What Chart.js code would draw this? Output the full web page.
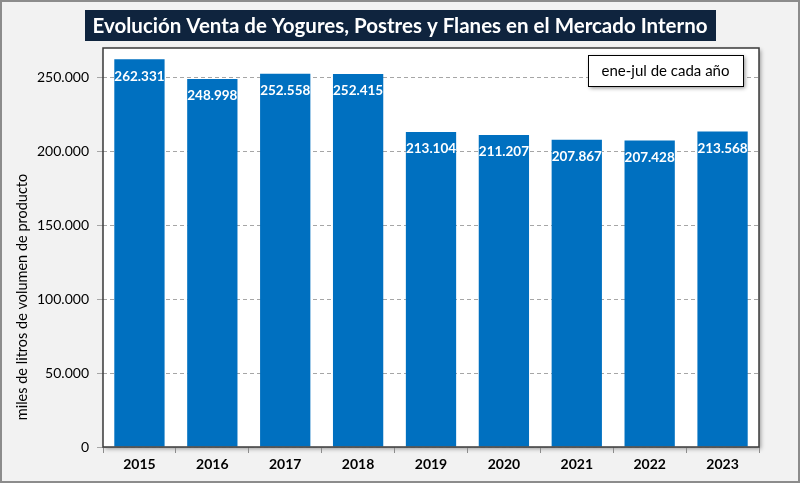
<!DOCTYPE html>
<html>
<head>
<meta charset="utf-8">
<script src="https://cdn.jsdelivr.net/npm/chart.js"></script>
<style>
  html, body { margin: 0; padding: 0; background: #f2f2f2; }
  #wrap { width: 800px; height: 483px; position: relative; }
</style>
</head>
<body>
<div id="wrap"><canvas id="chart" width="800" height="483"></canvas></div>
<script>
// datos (miles de litros, ene-jul)
const years = ['2015', '2016', '2017', '2018', '2019', '2020', '2021', '2022', '2023'];
const volumen = [262331, 248998, 252558, 252415, 213104, 211207, 207867, 207428, 213568];
const yTicks = [0, 50000, 100000, 150000, 200000, 250000];

const titulo = 'Evolución Venta de Yogures, Postres y Flanes en el Mercado Interno';
const nota = 'ene-jul de cada año';
const ejeY = 'miles de litros de volumen de producto';

const FONT = 'Lato, "Open Sans", sans-serif';

function miles(v) {
  return v.toString().replace(/\B(?=(\d{3})+(?!\d))/g, '.');
}

const decor = {
  id: 'decor',
  beforeDraw(chart) {
    const ctx = chart.ctx;
    ctx.save();
    ctx.fillStyle = '#f2f2f2';
    ctx.fillRect(0, 0, chart.width, chart.height);
    // plot area blanco con sombra
    const a = chart.chartArea;
    ctx.shadowColor = 'rgba(0,0,0,0.35)';
    ctx.shadowBlur = 4;
    ctx.shadowOffsetX = 2;
    ctx.shadowOffsetY = 2;
    ctx.fillStyle = '#ffffff';
    ctx.fillRect(a.left, a.top, a.right - a.left, a.bottom - a.top);
    ctx.restore();
  },
  afterDraw(chart) {
    const ctx = chart.ctx;
    const a = chart.chartArea;
    ctx.save();
    // borde del area
    ctx.strokeStyle = '#3a3a3a';
    ctx.lineWidth = 1.5;
    ctx.strokeRect(a.left, a.top, a.right - a.left, a.bottom - a.top);

    // etiquetas de valores
    const meta = chart.getDatasetMeta(0);
    ctx.fillStyle = '#ffffff';
    ctx.font = 'bold 13.5px ' + FONT;
    ctx.textAlign = 'center';
    ctx.textBaseline = 'middle';
    meta.data.forEach((bar, i) => {
      ctx.fillText(miles(volumen[i]), bar.x, bar.y + 17);
    });

    // titulo
    ctx.font = 'bold 20.5px ' + FONT;
    ctx.fillStyle = '#0f243e';
    ctx.fillRect(85, 10, 631, 31);
    ctx.fillStyle = '#ffffff';
    ctx.textAlign = 'center';
    ctx.fillText(titulo, 400, 26);

    // nota
    ctx.shadowColor = 'rgba(0,0,0,0.45)';
    ctx.shadowBlur = 4;
    ctx.shadowOffsetX = 2;
    ctx.shadowOffsetY = 2;
    ctx.fillStyle = '#ffffff';
    ctx.fillRect(588, 55, 155, 31);
    ctx.shadowColor = 'transparent';
    ctx.strokeStyle = '#000000';
    ctx.lineWidth = 1;
    ctx.strokeRect(588.5, 55.5, 155, 31);
    ctx.fillStyle = '#000000';
    ctx.font = '15px ' + FONT;
    ctx.fillText(nota, 665.5, 71.5);

    // titulo eje y
    ctx.translate(22, 297);
    ctx.rotate(-Math.PI / 2);
    ctx.font = '14.5px ' + FONT;
    ctx.fillText(ejeY, 0, 0);
    ctx.restore();

    // marco exterior
    ctx.save();
    ctx.strokeStyle = '#8c8c8c';
    ctx.lineWidth = 2;
    ctx.strokeRect(1, 1, chart.width - 2, chart.height - 2);
    ctx.restore();
  }
};

new Chart(document.getElementById('chart'), {
  type: 'bar',
  data: {
    labels: years,
    datasets: [{
      data: volumen,
      backgroundColor: '#0070c0',
      barPercentage: 0.69,
      categoryPercentage: 1.0
    }]
  },
  options: {
    responsive: false,
    animation: false,
    devicePixelRatio: 1,
    layout: { padding: { left: 0, top: 48, right: 41, bottom: 0 } },
    plugins: { legend: { display: false }, tooltip: { enabled: false } },
    scales: {
      x: {
        offset: true,
        grid: {
          offset: true,
          drawOnChartArea: false,
          drawTicks: true,
          tickLength: 6,
          color: '#8c8c8c'
        },
        border: { display: false },
        ticks: {
          color: '#000000',
          font: { family: FONT, size: 14, weight: 'bold' },
          padding: 3
        },
        afterFit(scale) { scale.height = 36; }
      },
      y: {
        min: 0,
        max: 270000,
        afterBuildTicks(scale) {
          scale.ticks = yTicks.map(v => ({ value: v }));
        },
        grid: {
          color: '#a6a6a6',
          tickLength: 6,
          lineWidth: 1
        },
        border: { display: false, dash: [4, 3] },
        ticks: {
          color: '#000000',
          font: { family: FONT, size: 14 },
          padding: 8,
          callback: v => miles(v)
        },
        afterFit(scale) { scale.width = 103; }
      }
    }
  },
  plugins: [decor]
});
</script>
</body>
</html>
